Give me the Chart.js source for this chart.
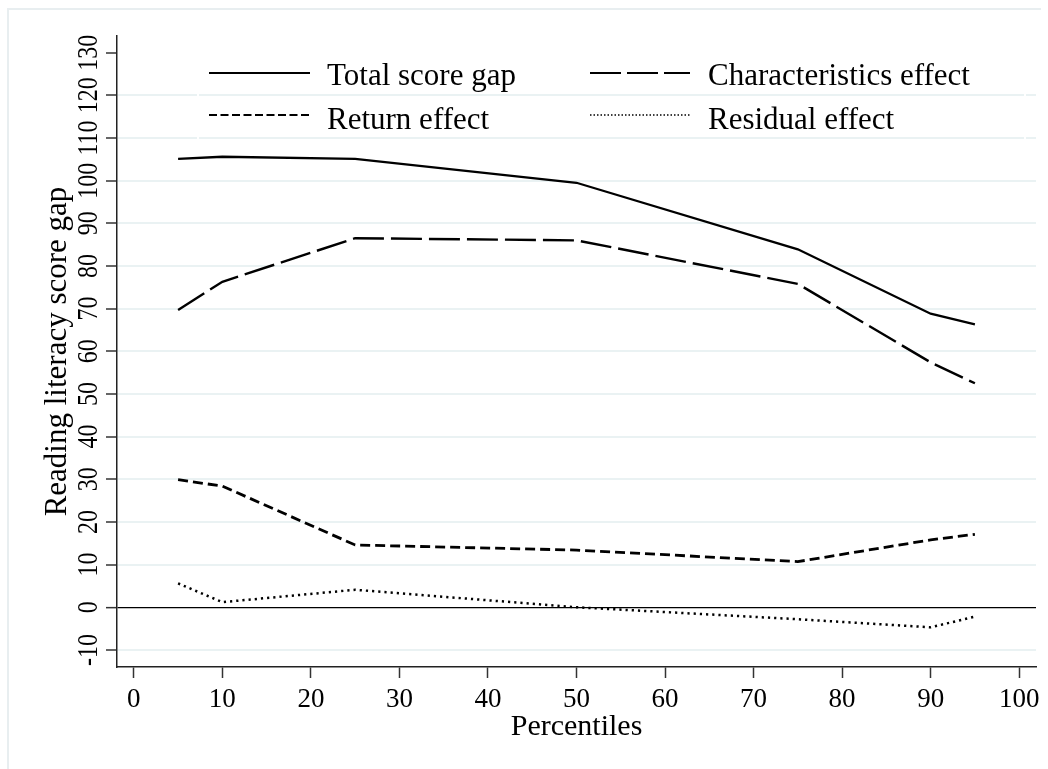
<!DOCTYPE html>
<html><head><meta charset="utf-8">
<script src="https://cdn.jsdelivr.net/npm/chart.js@4.4.1/dist/chart.umd.min.js"></script>
<style>html,body{margin:0;padding:0;background:#fff;}#wrap{width:1048px;height:769px;position:relative;}</style>
</head><body><div id="wrap"><canvas id="c"></canvas></div>
<script>
// ---- data ----
const percentiles = [5, 10, 25, 50, 75, 90, 95];
const totalGap = [105.1, 105.6, 105.1, 99.5, 83.9, 68.8, 66.3];
const characteristicsEffect = [69.7, 76.3, 86.5, 86.0, 75.8, 57.4, 52.5];
const returnEffect = [29.9, 28.4, 14.6, 13.4, 10.7, 15.8, 17.1];
const residualEffect = [5.6, 1.2, 4.1, 0.0, -2.8, -4.7, -2.2];
const xTicks = [0, 10, 20, 30, 40, 50, 60, 70, 80, 90, 100];
const yTicks = [-10, 0, 10, 20, 30, 40, 50, 60, 70, 80, 90, 100, 110, 120, 130];
const seriesNames = ['Total score gap', 'Characteristics effect', 'Return effect', 'Residual effect'];
const xTitle = 'Percentiles';
const yTitle = 'Reading literacy score gap';

const SERIF = '"Liberation Serif", "Times New Roman", serif';
function pts(vals) { return percentiles.map((p, i) => ({ x: p, y: vals[i] })); }

const legendDash = [[], [31, 6], [8, 3.5], [1.5, 2]];
const legendWidth = [2.2, 2.2, 2, 1.6];

const decor = {
  id: 'decor',
  beforeDraw(chart) {
    const ctx = chart.ctx;
    ctx.save();
    ctx.fillStyle = '#fff';
    ctx.fillRect(0, 0, chart.width, chart.height);
    ctx.strokeStyle = '#e8eef0';
    ctx.lineWidth = 2;
    ctx.beginPath();
    ctx.moveTo(8, chart.height); ctx.lineTo(8, 9); ctx.lineTo(1041, 9);
    ctx.stroke();
    ctx.restore();
  },
  beforeDatasetsDraw(chart) {
    const ctx = chart.ctx;
    ctx.save();
    ctx.strokeStyle = '#fff';
    ctx.lineWidth = 2;
    ctx.strokeRect(198, 44, 827, 102);
    ctx.restore();
  },
  afterDraw(chart) {
    const ctx = chart.ctx;
    ctx.save();
    ctx.fillStyle = '#000';
    // x tick labels
    const sx = chart.scales.x;
    ctx.font = '27px ' + SERIF;
    ctx.textAlign = 'center';
    ctx.textBaseline = 'alphabetic';
    sx.ticks.forEach(t => { ctx.fillText(String(t.value), sx.getPixelForValue(t.value), 706.5); });
    // y tick labels (rotated)
    const sy = chart.scales.y;
    ctx.font = '30px ' + SERIF;
    sy.ticks.forEach(t => {
      const py = sy.getPixelForValue(t.value);
      ctx.save();
      ctx.translate(97, py);
      ctx.rotate(-Math.PI / 2);
      ctx.scale(0.8, 1);
      ctx.textAlign = 'center';
      ctx.fillText(String(t.value), 0, 0);
      ctx.restore();
    });
    // legend
    const lineX0 = [209, 590], lineX1 = [310, 690], textX = [327, 708];
    const lineY = [73, 115], textY = [85, 128.5];
    ctx.font = '31px ' + SERIF;
    ctx.textAlign = 'left';
    chart.data.datasets.forEach((ds, i) => {
      const row = Math.floor(i / 2), col = i % 2;
      ctx.beginPath();
      ctx.setLineDash(legendDash[i]);
      ctx.lineWidth = legendWidth[i];
      ctx.strokeStyle = '#000';
      ctx.lineCap = 'butt';
      ctx.moveTo(lineX0[col], lineY[row]);
      ctx.lineTo(lineX1[col], lineY[row]);
      ctx.stroke();
      ctx.setLineDash([]);
      ctx.fillText(ds.label, textX[col], textY[row]);
    });
    ctx.restore();
  }
};

new Chart(document.getElementById('c'), {
  type: 'line',
  data: {
    datasets: [
      { label: seriesNames[0], data: pts(totalGap), borderColor: '#000', borderWidth: 2.3, borderDash: [] },
      { label: seriesNames[1], data: pts(characteristicsEffect), borderColor: '#000', borderWidth: 2.4, borderDash: [31, 7] },
      { label: seriesNames[2], data: pts(returnEffect), borderColor: '#000', borderWidth: 2.8, borderDash: [10, 5] },
      { label: seriesNames[3], data: pts(residualEffect), borderColor: '#000', borderWidth: 2.5, borderDash: [2.2, 4] }
    ]
  },
  options: {
    responsive: true,
    maintainAspectRatio: false,
    animation: false,
    devicePixelRatio: 1,
    layout: { padding: { left: 0, right: 12, top: 36, bottom: 0 } },
    elements: { point: { radius: 0 }, line: { tension: 0, borderCapStyle: 'butt', fill: false } },
    plugins: { legend: { display: false }, tooltip: { enabled: false } },
    scales: {
      x: {
        type: 'linear', min: -1.9, max: 101.9,
        afterBuildTicks: s => { s.ticks = xTicks.map(v => ({ value: v })); },
        afterFit: s => { s.height = 102; },
        ticks: { display: false },
        grid: { display: true, drawOnChartArea: false, drawTicks: true, tickLength: 11, tickColor: '#333', tickWidth: 1.5 },
        border: { display: true, color: '#222', width: 1.5 },
        title: { display: true, text: xTitle, color: '#000', font: { family: SERIF, size: 30 }, padding: { top: 0, bottom: 24 } }
      },
      y: {
        type: 'linear', min: -14, max: 133.9,
        afterBuildTicks: s => { s.ticks = yTicks.map(v => ({ value: v })); },
        afterFit: s => { s.width = 117; },
        ticks: { display: false },
        grid: {
          display: true, drawOnChartArea: true, drawTicks: true, tickLength: 11,
          tickColor: '#333', tickWidth: 1.5,
          color: c => (c.tick && c.tick.value === 0) ? '#000' : (c.tick && c.tick.value === 130 ? 'rgba(0,0,0,0)' : '#eaf2f3'),
          lineWidth: c => (c.tick && c.tick.value === 0) ? 1.3 : 2
        },
        border: { display: true, color: '#222', width: 1.5 },
        title: { display: true, text: yTitle, color: '#000', font: { family: SERIF, size: 31 }, padding: { top: 39, bottom: 0 } }
      }
    }
  },
  plugins: [decor]
});
</script>
</body></html>
